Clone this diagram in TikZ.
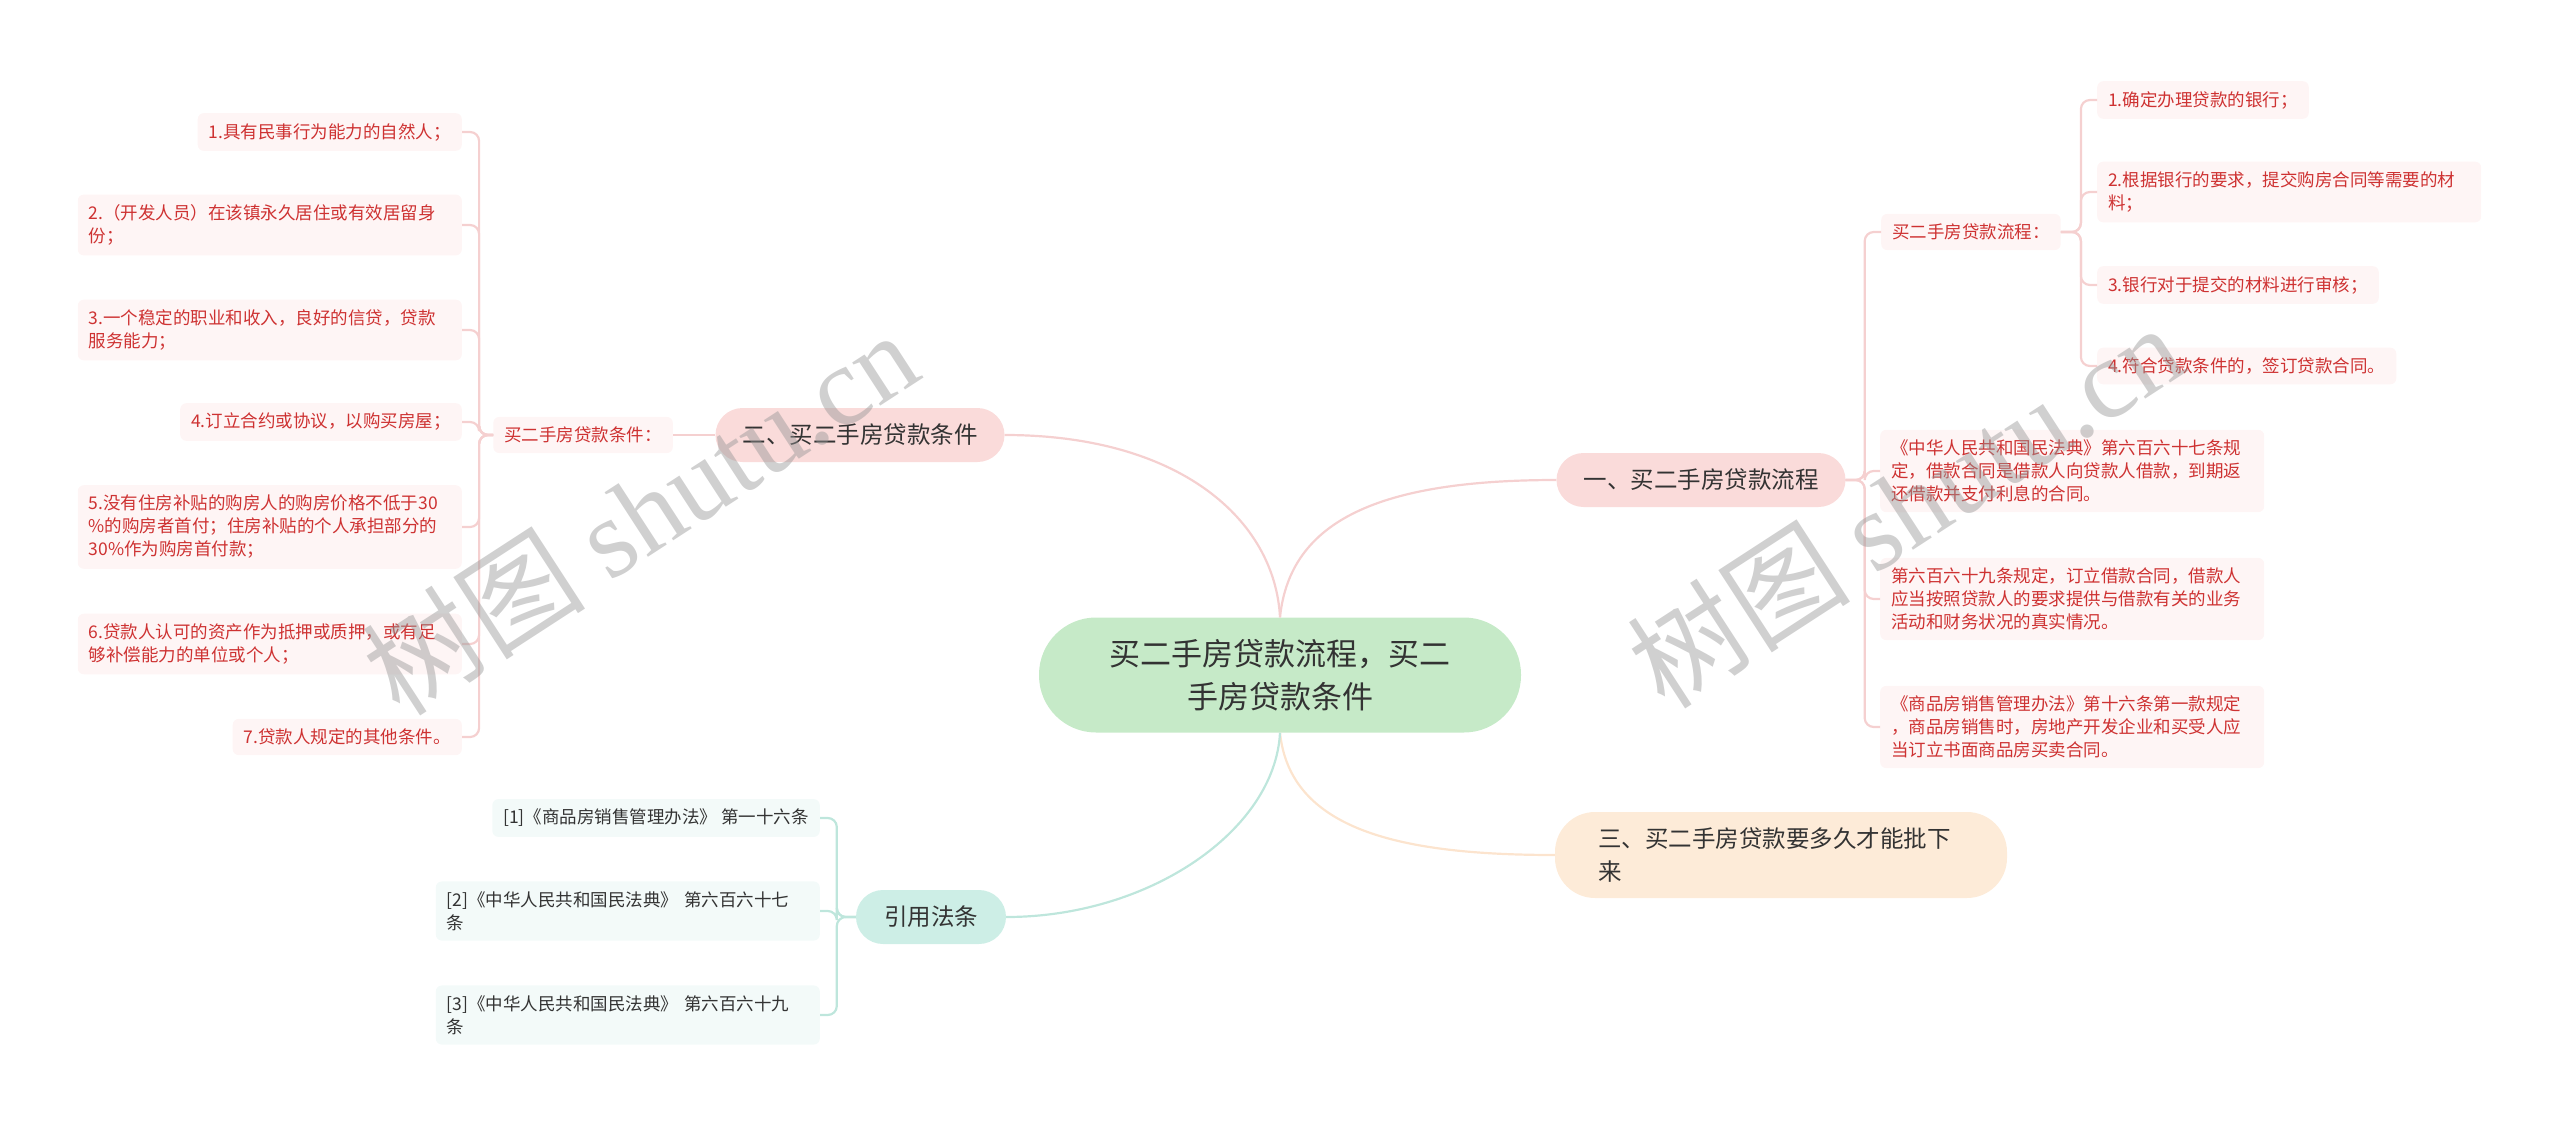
\documentclass[tikz,border=0pt]{standalone}
\usepackage{fontspec}
\setmainfont{Noto Sans CJK SC}
\newfontfamily\wmlatin{Liberation Serif}
\usetikzlibrary{positioning}
\definecolor{wirepink}{RGB}{245,208,208}
\definecolor{branchpink}{RGB}{250,219,218}
\definecolor{leafpink}{RGB}{254,245,245}
\definecolor{leafred}{RGB}{206,50,50}
\definecolor{rootgreen}{RGB}{198,234,200}
\definecolor{inkgray}{RGB}{51,51,51}
\definecolor{branchpeach}{RGB}{253,235,216}
\definecolor{wirepeach}{RGB}{252,228,206}
\definecolor{branchteal}{RGB}{205,238,230}
\definecolor{wireteal}{RGB}{190,230,220}
\definecolor{leafteal}{RGB}{243,250,249}
\definecolor{wmgray}{RGB}{150,150,150}

\begin{document}
\begin{tikzpicture}[x=1pt,y=-1pt,
  root/.style={fill=rootgreen,text=inkgray,rounded corners=57pt,minimum width=482pt,minimum height=115pt,align=center,font=\fontsize{31}{43}\selectfont},
  branch/.style={fill=#1,text=inkgray,rounded corners=27pt,minimum width=289pt,minimum height=54pt,font=\fontsize{23.5}{33}\selectfont},
  leaf/.style={fill=leafpink,text=leafred,rounded corners=6pt,inner xsep=11pt,inner ysep=10pt,align=left,font=\fontsize{17.5}{23}\selectfont},
  refleaf/.style={leaf,fill=leafteal,text=inkgray},
  wide/.style={text width=362pt},
  pinkwire/.style={draw=wirepink,line width=2.2pt,rounded corners=9pt},
  peachwire/.style={draw=wirepeach,line width=2.2pt},
  tealwire/.style={draw=wireteal,line width=2.2pt,rounded corners=9pt},
  wmark/.style={text=wmgray,opacity=0.45,rotate=33,font=\fontsize{112}{112}\selectfont}]
\useasboundingbox (0,0) rectangle (2560,1127);

% centre and main branches
\node[root] (root) at (1280,675) {买二手房贷款流程，买二\\手房贷款条件};
\node[branch=branchpink] (cond) at (860,435) {二、买二手房贷款条件};
\node[branch=branchpink] (flow) at (1701,480) {一、买二手房贷款流程};
\node[branch=branchpeach,rounded corners=40pt,minimum height=86pt,inner xsep=43pt,text width=366pt,align=left] (time) at (1781,855) {三、买二手房贷款要多久才能批下\\来};
\node[branch=branchteal,minimum width=150pt] (refs) at (931,917) {引用法条};

% left side
\node[leaf,anchor=east] (condlab) at (673,435) {买二手房贷款条件：};
\node[leaf,anchor=east] (c1) at (462,132) {1.具有民事行为能力的自然人；};
\node[leaf,wide,anchor=east] (c2) at (462,225) {2.（开发人员）在该镇永久居住或有效居留身\\份；};
\node[leaf,wide,anchor=east] (c3) at (462,330) {3.一个稳定的职业和收入，良好的信贷，贷款\\服务能力；};
\node[leaf,anchor=east] (c4) at (462,422) {4.订立合约或协议，以购买房屋；};
\node[leaf,wide,anchor=east] (c5) at (462,527) {5.没有住房补贴的购房人的购房价格不低于30\\\%的购房者首付；住房补贴的个人承担部分的\\30\%作为购房首付款；};
\node[leaf,wide,anchor=east] (c6) at (462,644) {6.贷款人认可的资产作为抵押或质押，或有足\\够补偿能力的单位或个人；};
\node[leaf,anchor=east] (c7) at (462,737) {7.贷款人规定的其他条件。};

% right side
\node[leaf,anchor=west] (flowlab) at (1881,232) {买二手房贷款流程：};
\node[leaf,anchor=west] (r1) at (2097,100) {1.确定办理贷款的银行；};
\node[leaf,wide,anchor=west] (r2) at (2097,192) {2.根据银行的要求，提交购房合同等需要的材\\料；};
\node[leaf,anchor=west] (r3) at (2097,285) {3.银行对于提交的材料进行审核；};
\node[leaf,anchor=west] (r4) at (2097,366) {4.符合贷款条件的，签订贷款合同。};
\node[leaf,wide,anchor=west] (l1) at (1880,471) {《中华人民共和国民法典》第六百六十七条规\\定，借款合同是借款人向贷款人借款，到期返\\还借款并支付利息的合同。};
\node[leaf,wide,anchor=west] (l2) at (1880,599) {第六百六十九条规定，订立借款合同，借款人\\应当按照贷款人的要求提供与借款有关的业务\\活动和财务状况的真实情况。};
\node[leaf,wide,anchor=west] (l3) at (1880,727) {《商品房销售管理办法》第十六条第一款规定\\，商品房销售时，房地产开发企业和买受人应\\当订立书面商品房买卖合同。};

% references
\node[refleaf,anchor=east] (f1) at (820,818) {[1]《商品房销售管理办法》 第一十六条};
\node[refleaf,wide,anchor=east] (f2) at (820,911) {[2]《中华人民共和国民法典》 第六百六十七\\条};
\node[refleaf,wide,anchor=east] (f3) at (820,1015) {[3]《中华人民共和国民法典》 第六百六十九\\条};

% connectors
\draw[pinkwire] (root.north) .. controls (1275,520) and (1180,435) .. (cond.east);
\draw[pinkwire] (root.north) .. controls (1290,520) and (1380,480) .. (flow.west);
\draw[peachwire] (root.south) .. controls (1290,830) and (1400,855) .. (time.west);
\draw[tealwire] (root.south) .. controls (1275,830) and (1150,917) .. (refs.east);
\draw[pinkwire] (cond.west) -- (condlab.east);
\foreach \n in {c1,c2,c3,c4,c5,c6,c7}
  \draw[pinkwire] (condlab.west) -- ++(-14,0) |- (\n.east);
\foreach \n in {flowlab,l1,l2,l3}
  \draw[pinkwire] (flow.east) -- ++(19,0) |- (\n.west);
\foreach \n in {r1,r2,r3,r4}
  \draw[pinkwire] (flowlab.east) -- ++(20,0) |- (\n.west);
\foreach \n in {f1,f2,f3}
  \draw[tealwire] (refs.west) -- ++(-19,0) |- (\n.east);

% watermark
\node[wmark] (wm1) at (640,512) {树图 {\wmlatin shutu.cn}};
\node[wmark] (wm2) at (1905,505) {树图 {\wmlatin shutu.cn}};
\end{tikzpicture}
\end{document}
